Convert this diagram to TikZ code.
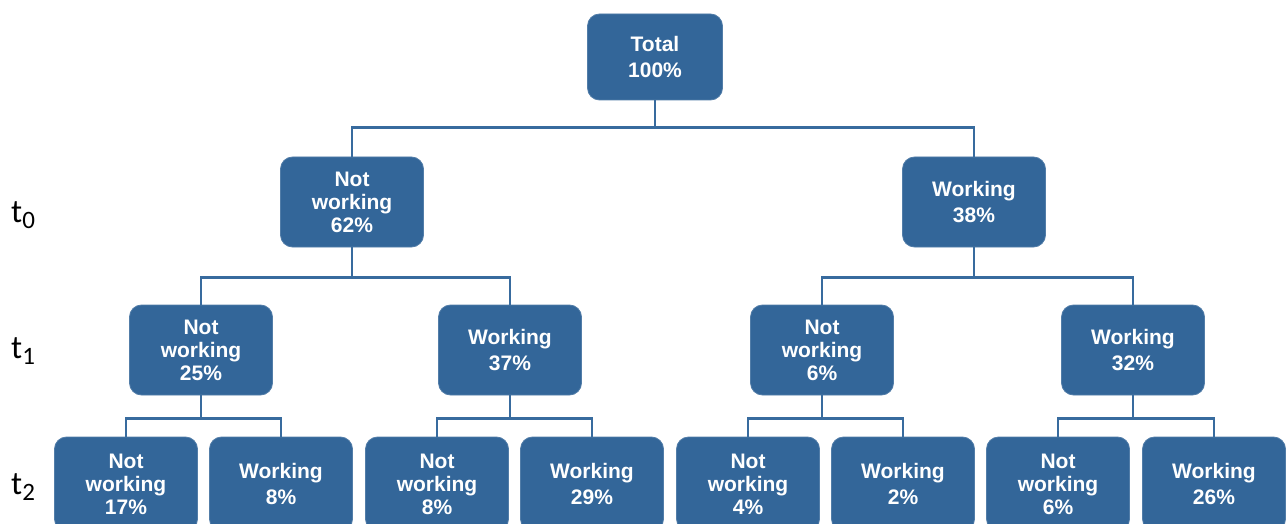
\documentclass[tikz,border=0pt]{standalone}
\usepackage{fontspec}
\setmainfont{Liberation Sans}
\newfontfamily\levelfont{Carlito}

\definecolor{boxcolor}{rgb}{0.200000, 0.400000, 0.600000}
\definecolor{linkcolor}{rgb}{0.220000, 0.420000, 0.620000}

\tikzset{
  box/.style={fill=boxcolor, draw=boxcolor!85!white, line width=0.8pt,
    rounded corners=12pt, minimum width=143pt, minimum height=90pt,
    text=white, align=center, inner sep=0pt,
    font=\fontsize{21}{23}\selectfont\bfseries},
  twoline/.style={font=\fontsize{21}{26.5}\selectfont\bfseries},
  lowbox/.style={minimum height=94pt},
  link/.style={draw=linkcolor, line width=2.6pt},
  levellabel/.style={anchor=west, inner sep=0pt,
    font=\levelfont\fontsize{33}{33}\selectfont}
}
\newcommand{\tlevel}[1]{t\raisebox{-6pt}{\fontsize{25}{25}\selectfont #1}}

\begin{document}
\begin{tikzpicture}[x=1pt,y=-1pt]
\useasboundingbox (0,0) rectangle (1288,524);

% levels
\node[levellabel] (lab0) at (11,215) {\tlevel{0}};
\node[levellabel] (lab1) at (11,351) {\tlevel{1}};
\node[levellabel] (lab2) at (11,487) {\tlevel{2}};

% root
\node[box, twoline, minimum width=135pt, minimum height=86pt] (total) at (655,57) {Total\\100\%};

% t0
\node[box] (nw) at (352,202) {Not\\working\\62\%};
\node[box, twoline] (w) at (974,202) {Working\\38\%};

% t1
\node[box] (nwnw) at (201,350) {Not\\working\\25\%};
\node[box, twoline] (nww) at (510,350) {Working\\37\%};
\node[box] (wnw) at (822,350) {Not\\working\\6\%};
\node[box, twoline] (ww) at (1133,350) {Working\\32\%};

% t2
\node[box, lowbox] (nwnwnw) at (126,484) {Not\\working\\17\%};
\node[box, lowbox, twoline] (nwnww) at (281,484) {Working\\8\%};
\node[box, lowbox] (nwwnw) at (437,484) {Not\\working\\8\%};
\node[box, lowbox, twoline] (nwww) at (592,484) {Working\\29\%};
\node[box, lowbox] (wnwnw) at (748,484) {Not\\working\\4\%};
\node[box, lowbox, twoline] (wnww) at (903,484) {Working\\2\%};
\node[box, lowbox] (wwnw) at (1058,484) {Not\\working\\6\%};
\node[box, lowbox, twoline] (www) at (1214,484) {Working\\26\%};

% connectors
\foreach \parent/\drop/\lchild/\rchild in {total/27/nw/w, nw/30/nwnw/nww, w/30/wnw/ww,
    nwnw/23/nwnwnw/nwnww, nww/23/nwwnw/nwww, wnw/23/wnwnw/wnww, ww/23/wwnw/www}{
  \draw[link] (\parent.south) -- ++(0,\drop) -| (\lchild.north);
  \draw[link] (\parent.south) -- ++(0,\drop) -| (\rchild.north);
}
\end{tikzpicture}
\end{document}
